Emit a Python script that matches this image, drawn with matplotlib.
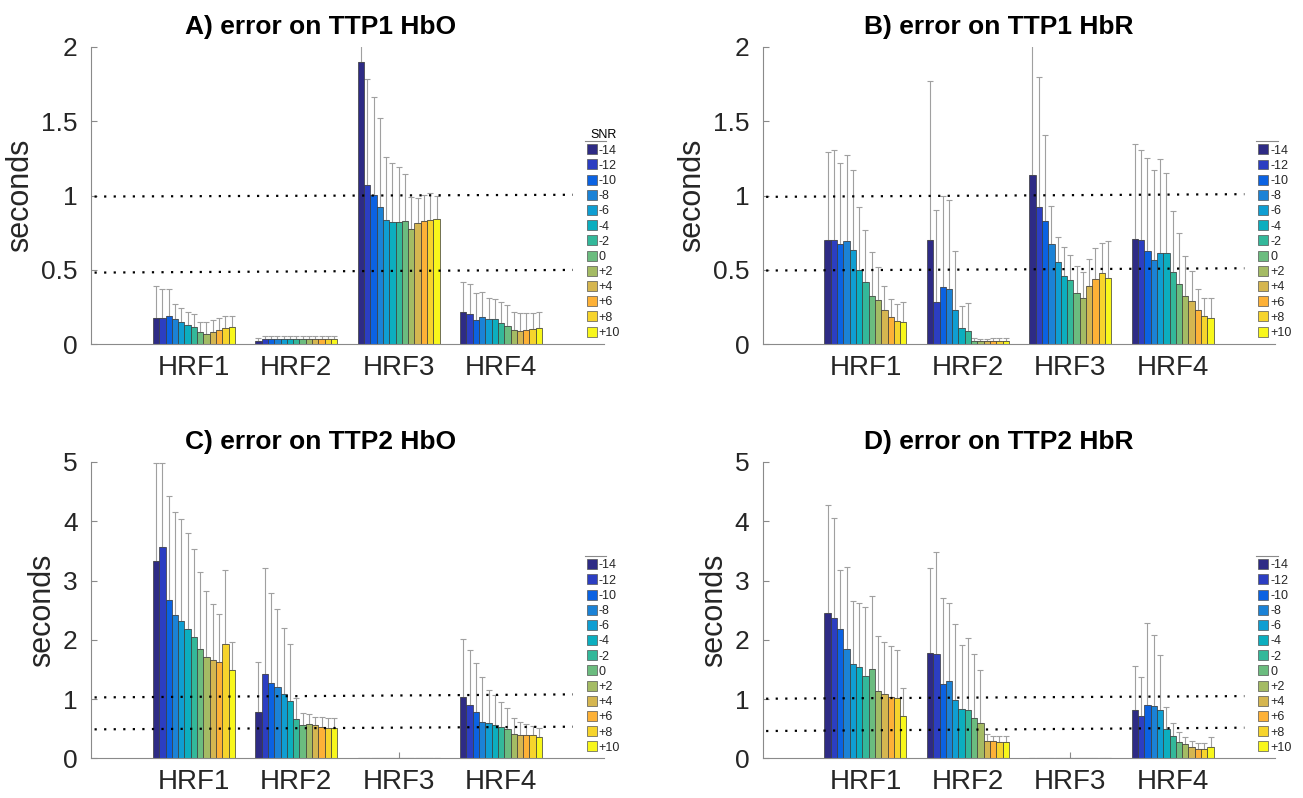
import numpy as np
import matplotlib
matplotlib.use("Agg")
import matplotlib.pyplot as plt

plt.rcParams["font.family"] = ["Liberation Sans", "DejaVu Sans"]

# ---- data ----
groups = ["HRF1", "HRF2", "HRF3", "HRF4"]
snr_labels = ["-14", "-12", "-10", "-8", "-6", "-4", "-2", "0", "+2", "+4", "+6", "+8", "+10"]
snr_colors = ["#2e2b85", "#2c3ec2", "#0b62e2", "#1b82d6", "#0f9ed2", "#0caebf",
              "#33b89a", "#6bbc7f", "#a4bb64", "#d5b650", "#fdb137", "#f6d42c", "#f8f71b"]

# panel A: TTP1 HbO  (mean, top of the error whisker)
a_mean = [[0.175, 0.18, 0.188, 0.17, 0.153, 0.128, 0.114, 0.083, 0.072, 0.085, 0.096, 0.110, 0.117],
          [0.025, 0.034, 0.036, 0.036, 0.036, 0.036, 0.035, 0.035, 0.035, 0.035, 0.035, 0.035, 0.035],
          [1.895, 1.068, 1.005, 0.92, 0.834, 0.819, 0.823, 0.83, 0.772, 0.817, 0.83, 0.834, 0.843],
          [0.22, 0.206, 0.164, 0.184, 0.173, 0.168, 0.144, 0.123, 0.096, 0.092, 0.094, 0.101, 0.11]]
a_upper = [[0.39, 0.372, 0.372, 0.269, 0.247, 0.22, 0.204, 0.15, 0.15, 0.162, 0.175, 0.191, 0.191],
           [0.043, 0.054, 0.054, 0.054, 0.054, 0.054, 0.054, 0.054, 0.054, 0.054, 0.054, 0.054, 0.054],
           [2.1, 1.786, 1.66, 1.519, 1.261, 1.218, 1.193, 1.146, 0.991, 0.98, 1.003, 1.016, 0.998],
           [0.417, 0.404, 0.343, 0.352, 0.31, 0.303, 0.285, 0.262, 0.217, 0.209, 0.209, 0.213, 0.22]]

# panel B: TTP1 HbR
b_mean = [[0.702, 0.702, 0.671, 0.696, 0.636, 0.5, 0.418, 0.322, 0.296, 0.233, 0.184, 0.16, 0.149],
          [0.702, 0.282, 0.387, 0.371, 0.229, 0.109, 0.091, 0.022, 0.022, 0.022, 0.024, 0.024, 0.024],
          [1.138, 0.922, 0.829, 0.671, 0.551, 0.456, 0.433, 0.347, 0.313, 0.393, 0.44, 0.48, 0.449],
          [0.707, 0.7, 0.629, 0.567, 0.611, 0.611, 0.484, 0.407, 0.324, 0.291, 0.233, 0.193, 0.18]]
b_upper = [[1.291, 1.304, 1.22, 1.273, 1.173, 0.922, 0.769, 0.62, 0.518, 0.393, 0.304, 0.269, 0.282],
           [1.771, 0.9, 0.996, 0.971, 0.624, 0.256, 0.278, 0.04, 0.036, 0.036, 0.04, 0.04, 0.04],
           [2.1, 1.793, 1.407, 0.927, 0.718, 0.656, 0.6, 0.529, 0.489, 0.573, 0.647, 0.684, 0.693],
           [1.344, 1.307, 1.249, 1.173, 1.242, 1.149, 0.896, 0.747, 0.596, 0.496, 0.373, 0.311, 0.311]]

# panel C: TTP2 HbO
c_mean = [[3.326, 3.573, 2.669, 2.416, 2.309, 2.18, 2.039, 1.837, 1.713, 1.652, 1.629, 1.921, 1.483],
          [0.775, 1.416, 1.264, 1.197, 1.079, 0.961, 0.657, 0.567, 0.584, 0.556, 0.534, 0.517, 0.511],
          [0] * 13,
          [1.039, 0.899, 0.775, 0.618, 0.596, 0.556, 0.528, 0.489, 0.416, 0.399, 0.393, 0.388, 0.365]]
c_upper = [[4.99, 4.98, 4.427, 4.157, 4.039, 3.803, 3.534, 3.152, 2.831, 2.612, 2.438, 3.185, 1.955],
           [1.618, 3.213, 2.792, 2.517, 2.202, 1.927, 1.017, 0.770, 0.747, 0.702, 0.702, 0.685, 0.680],
           [0] * 13,
           [2.017, 1.826, 1.601, 1.371, 1.146, 1.073, 0.944, 0.848, 0.674, 0.618, 0.579, 0.545, 0.506]]

# panel D: TTP2 HbR
d_mean = [[2.449, 2.36, 2.174, 1.843, 1.596, 1.545, 1.382, 1.5, 1.135, 1.09, 1.039, 1.017, 0.708],
          [1.781, 1.758, 1.253, 1.298, 0.978, 0.826, 0.809, 0.685, 0.59, 0.292, 0.292, 0.275, 0.27],
          [0] * 13,
          [0.809, 0.708, 0.893, 0.882, 0.815, 0.494, 0.371, 0.275, 0.236, 0.197, 0.163, 0.152, 0.197]]
d_upper = [[4.27, 4.056, 3.174, 3.236, 2.652, 2.629, 2.556, 2.736, 2.056, 1.961, 1.888, 1.826, 1.185],
           [3.219, 3.489, 2.713, 2.629, 2.27, 1.91, 2.022, 1.764, 1.494, 0.404, 0.382, 0.376, 0.376],
           [0] * 13,
           [1.562, 1.371, 2.275, 2.073, 1.736, 0.871, 0.601, 0.449, 0.365, 0.292, 0.264, 0.264, 0.354]]

# dotted reference lines (value at left end, value at right end)
a_ref = [(0.993, 1.005), (0.482, 0.50)]
b_ref = [(0.991, 1.009), (0.496, 0.511)]
c_ref = [(1.028, 1.079), (0.489, 0.534)]
d_ref = [(1.006, 1.05), (0.461, 0.517)]

AX_GRAY = "#8a8a8a"
TXT = "#262626"


def draw_panel(ax, mean, upper, ref, title, ymax, title_x, show_snr):
    mean = np.array(mean, dtype=float)
    upper = np.array(upper, dtype=float)
    n = len(snr_labels)
    x = np.arange(1, len(groups) + 1)
    w = 0.8 / n
    for i in range(n):
        xi = x + (i - (n - 1) / 2) * w
        ax.bar(xi, mean[:, i], w, color=snr_colors[i], edgecolor="#3a3a3a",
               linewidth=0.5, label=snr_labels[i], zorder=2)
        err = upper[:, i] - mean[:, i]
        ax.errorbar(xi, mean[:, i], yerr=[np.zeros(len(x)), err], fmt="none",
                    ecolor="#a0a0a0", elinewidth=0.8, capsize=2, capthick=0.8, zorder=1.5)
    for y0, y1 in ref:
        ax.plot([0.03, 4.7], [y0, y1], color="black", lw=1.6,
                linestyle=(0, (1, 3.3)), zorder=3)

    ax.set_xlim(0, 5)
    ax.set_ylim(0, ymax)
    ax.set_xticks(x)
    ax.set_xticklabels(groups, fontsize=20, color=TXT)
    if ymax == 2:
        ax.set_yticks([0, 0.5, 1, 1.5, 2])
        ax.set_yticklabels(["0", "0.5", "1", "1.5", "2"])
    else:
        ax.set_yticks(range(0, ymax + 1))
    ax.tick_params(axis="y", labelsize=19, labelcolor=TXT, direction="in",
                   length=4, color=AX_GRAY, pad=10)
    ax.tick_params(axis="x", direction="in", length=4, color=AX_GRAY, pad=8)
    ax.set_axisbelow(True)
    for s in ["top", "right"]:
        ax.spines[s].set_visible(False)
    for s in ["left", "bottom"]:
        ax.spines[s].set_color(AX_GRAY)
        ax.spines[s].set_linewidth(0.8)
    ax.set_ylabel("seconds", fontsize=22, color=TXT, labelpad=4)
    ax.set_title(title, fontsize=19, fontweight="bold", x=title_x, pad=9)

    anchor_y = 0.722 if show_snr else 0.672
    leg = ax.legend(loc="upper left", bbox_to_anchor=(0.967, anchor_y), frameon=False,
                    fontsize=9, handlelength=0.8, handleheight=0.85, handletextpad=0.15,
                    labelspacing=0.23, borderpad=0, borderaxespad=0,
                    title="SNR" if show_snr else None, title_fontsize=9)
    for t in leg.get_texts():
        t.set_color(TXT)
    for h in leg.legend_handles:
        h.set_edgecolor("#555555")
    ax.plot([0.963, 1.005], [0.683, 0.683], transform=ax.transAxes,
            color=AX_GRAY, lw=0.8, clip_on=False)


fig = plt.figure(figsize=(13.03, 7.98), dpi=100)
ax_a = fig.add_axes([0.0702, 0.5685, 0.393, 0.373])
ax_b = fig.add_axes([0.5856, 0.5685, 0.393, 0.373])
ax_c = fig.add_axes([0.0702, 0.0497, 0.393, 0.3714])
ax_d = fig.add_axes([0.5856, 0.0497, 0.393, 0.3714])

draw_panel(ax_a, a_mean, a_upper, a_ref, "A) error on TTP1 HbO", 2, 0.447, True)
draw_panel(ax_b, b_mean, b_upper, b_ref, "B) error on TTP1 HbR", 2, 0.461, False)
draw_panel(ax_c, c_mean, c_upper, c_ref, "C) error on TTP2 HbO", 5, 0.447, False)
draw_panel(ax_d, d_mean, d_upper, d_ref, "D) error on TTP2 HbR", 5, 0.461, False)

fig.savefig("out.png", dpi=100)
